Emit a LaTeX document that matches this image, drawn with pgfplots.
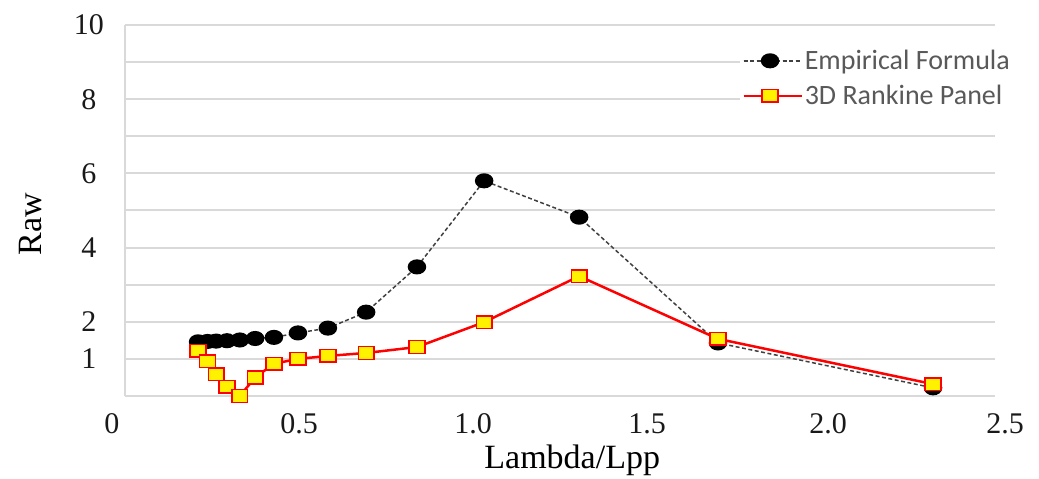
\documentclass[border=0pt]{standalone}
\usepackage{pgfplots}
\pgfplotsset{compat=1.18}
\usepackage{pgfplotstable}
\usepackage{fontspec}
\setmainfont{Liberation Serif}
\newfontfamily\legendfont{Carlito}
\definecolor{gridgray}{HTML}{D9D9D9}
\definecolor{legendgray}{HTML}{595959}
\definecolor{dashgray}{HTML}{404040}

% Added resistance in waves: empirical formula vs. 3D Rankine panel method
\pgfplotstableread{
x      emp   rankine
0.210  1.46  1.22
0.237  1.47  0.94
0.262  1.48  0.59
0.293  1.49  0.25
0.330  1.51  0.00
0.374  1.55  0.50
0.428  1.58  0.87
0.497  1.70  1.00
0.583  1.83  1.08
0.693  2.26  1.16
0.839  3.48  1.32
1.032  5.80  1.99
1.305  4.82  3.23
1.704  1.43  1.54
2.322  0.22  0.32
}\rawdata

\begin{document}
\begin{tikzpicture}
\useasboundingbox (-125pt,-83pt) rectangle (914pt,396pt);
\begin{axis}[
  at={(0,0)}, anchor=south west,
  scale only axis, width=870pt, height=371pt,
  xmin=0, xmax=2.5, ymin=0, ymax=10,
  clip=false,
  axis lines=left,
  axis line style={-, draw=gridgray, line width=2pt},
  major tick length=0pt,
  ymajorgrids,
  grid style={draw=gridgray, line width=2pt},
  xtick={0,0.5,1,1.5,2,2.5},
  xticklabels={\kern-13pt 0\kern13pt, 0.5, 1.0, 1.5, \kern7pt 2.0\kern-7pt, \kern10pt 2.5\kern-10pt},
  ytick={0,1,2,3,4,5,6,7,8,9,10},
  yticklabels={,\raisebox{-6pt}{1},2,,4,,6,,8,,10},
  /pgf/number format/assume math mode=true,
  tick label style={font=\fontsize{30}{36}\selectfont, text=black!90},
  xticklabel style={anchor=center, yshift=-28pt},
  yticklabel style={anchor=center, xshift=-36pt},
  xlabel={Lambda/Lpp},
  ylabel={Raw},
  label style={font=\fontsize{34}{40}\selectfont},
  xlabel style={at={(axis description cs:0.514,-0.1725)}, anchor=center},
  ylabel style={at={(axis description cs:-0.109,0.464)}, anchor=center},
  legend style={at={(0.707,0.943)}, anchor=north west, draw=none, fill=white,
    font=\legendfont\fontsize{28}{32}\selectfont, text=legendgray,
    row sep=10pt, inner sep=2pt},
  legend cell align=left,
  legend image code/.code={%
    \path (0pt,0pt) -- (58pt,0pt);
    \draw[mark repeat=2,mark phase=2,#1]
      plot coordinates {(0pt,0pt)(26.5pt,0pt)(53pt,0pt)};},
]
\addplot[draw=dashgray, line width=1.5pt, dash pattern=on 4pt off 2.5pt,
  mark=*, mark size=6.8pt,
  mark options={solid, fill=black, draw=black, xscale=1.25}]
  table[x=x, y=emp] {\rawdata};
\addlegendentry{Empirical Formula}
\addplot[draw=red, line width=2.5pt,
  mark=square*, mark size=6.3pt,
  mark options={solid, fill=yellow, draw=red, line width=1.5pt, xscale=1.25}]
  table[x=x, y=rankine] {\rawdata};
\addlegendentry{3D Rankine Panel}
\end{axis}
\end{tikzpicture}
\end{document}
